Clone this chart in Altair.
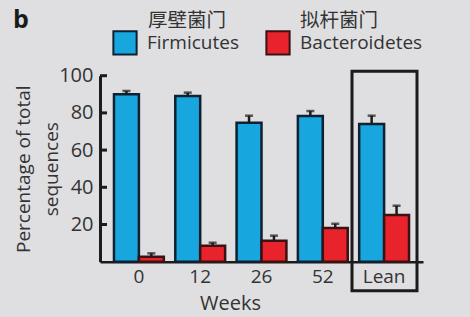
import altair as alt
import pandas as pd

# Sampling points and groups
weeks = ["0", "12", "26", "52", "Lean"]
series = ["Firmicutes", "Bacteroidetes"]
series_cn = ["厚壁菌门", "拟杆菌门"]

# Mean share of sequences (%) and upper error (SEM)
firmicutes = [90.0, 89.1, 74.7, 78.3, 74.0]
firmicutes_err = [1.8, 1.8, 3.8, 2.7, 4.5]
bacteroidetes = [2.7, 8.6, 11.3, 18.1, 25.1]
bacteroidetes_err = [1.8, 1.6, 2.7, 2.3, 5.0]

y_ticks = [20, 40, 60, 80, 100]

fill_colors = ["#18a6df", "#e8232b"]
stroke_colors = ["#0f2030", "#3a1214"]
ink = "#1b1b1b"
text_color = "#333333"
font = "Open Sans"
bg = "#dfdfe1"

rows = []
for name, vals, errs in [("Firmicutes", firmicutes, firmicutes_err),
                         ("Bacteroidetes", bacteroidetes, bacteroidetes_err)]:
    for w, v, e in zip(weeks, vals, errs):
        rows.append({"week": w, "series": name, "value": v, "upper": v + e})
df = pd.DataFrame(rows)
ticks_df = pd.DataFrame({"tick": y_ticks})
one = pd.DataFrame({"k": [0]})

W, H = 323, 186

x_enc = alt.X(
    "week:N", sort=weeks,
    scale=alt.Scale(paddingInner=0.187, paddingOuter=0.228),
    axis=alt.Axis(
        title="Weeks", titleFont=font, titleFontSize=20, titleFontWeight="normal",
        titleColor=text_color, titleX=130, titleY=48, titleBaseline="alphabetic",
        labelFont=font, labelFontSize=19, labelColor=text_color, labelPadding=6,
        labelAngle=0, ticks=False, domainColor=ink, domainWidth=2.5,
    ),
)
xo_enc = alt.XOffset("series:N", sort=series,
                     scale=alt.Scale(paddingInner=0, paddingOuter=0))
y_enc = alt.Y(
    "value:Q",
    scale=alt.Scale(domain=[0, 100], nice=False),
    axis=alt.Axis(
        values=y_ticks, title=["Percentage of total", "sequences"],
        titleFont=font, titleFontSize=19, titleFontWeight="normal",
        titleColor=text_color, titleLineHeight=28, titlePadding=-3,
        labelFont=font, labelFontSize=20, labelColor=text_color,
        labelPadding=7, ticks=False, domainColor=ink, domainWidth=3,
        grid=False,
    ),
)

bars = alt.Chart(df).mark_bar(strokeWidth=2.5).encode(
    x=x_enc,
    xOffset=xo_enc,
    y=y_enc,
    fill=alt.Fill(
        "series:N", sort=series,
        scale=alt.Scale(domain=series, range=fill_colors),
        legend=alt.Legend(
            title=None, orient="none", direction="horizontal",
            legendX=12, legendY=-46, padding=0,
            symbolType="square", symbolSize=540, symbolStrokeWidth=2,
            symbolStrokeColor="#201414", symbolOpacity=1,
            labelFont=font, labelFontSize=19, labelColor=text_color,
            labelOffset=9, columnPadding=22, labelBaseline="middle",
        ),
    ),
    stroke=alt.Stroke("series:N", sort=series,
                      scale=alt.Scale(domain=series, range=stroke_colors),
                      legend=None),
)

err_rule = alt.Chart(df).mark_rule(strokeWidth=2.5, color=ink).encode(
    x="week:N", xOffset=xo_enc,
    y="value:Q", y2="upper:Q",
)
err_cap = alt.Chart(df).mark_tick(size=8, thickness=2.5, color=ink, orient="horizontal").encode(
    x="week:N", xOffset=xo_enc, y="upper:Q",
)

# inward-pointing y ticks
inner_ticks = alt.Chart(ticks_df).mark_rule(strokeWidth=3, color=ink).encode(
    y=alt.Y("tick:Q"), x=alt.value(0), x2=alt.value(7),
)

# frame around the lean reference group
lean_box = alt.Chart(one).mark_rect(
    fillOpacity=0, stroke=ink, strokeWidth=3
).encode(
    x=alt.value(252), x2=alt.value(317), y=alt.value(-4.5), y2=alt.value(215),
)

cn1 = alt.Chart(one).mark_text(
    text=series_cn[0], font="Noto Sans CJK SC", fontSize=19.5, color=text_color,
    align="left", baseline="alphabetic",
).encode(x=alt.value(48), y=alt.value(-49))
cn2 = alt.Chart(one).mark_text(
    text=series_cn[1], font="Noto Sans CJK SC", fontSize=19.5, color=text_color,
    align="left", baseline="alphabetic",
).encode(x=alt.value(200), y=alt.value(-49))

panel = alt.Chart(one).mark_text(
    text="b", font=font, fontSize=25, fontWeight="bold", color=ink,
    align="left", baseline="alphabetic",
).encode(x=alt.value(-87), y=alt.value(-48))

chart = alt.layer(
    bars, err_rule, err_cap, inner_ticks, lean_box, cn1, cn2, panel
).properties(
    width=W, height=H,
    background=bg,
    padding={"left": 100, "top": 75.7, "right": 47, "bottom": 55.3},
    autosize=alt.AutoSizeParams(type="none"),
).configure_view(stroke=None)

chart.save("out.html", embed_options={"renderer": "svg", "actions": False})
